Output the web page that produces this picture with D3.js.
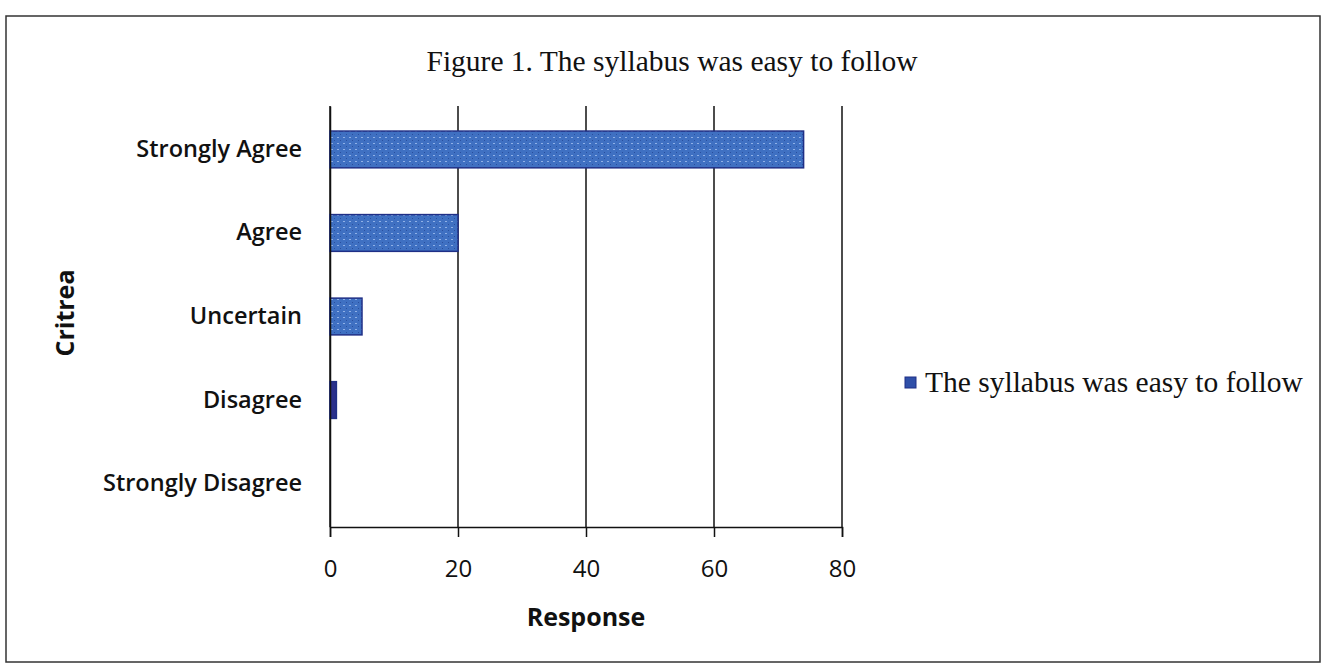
<!DOCTYPE html>
<html>
<head>
<meta charset="utf-8">
<script src="https://cdn.jsdelivr.net/npm/d3@7"></script>
<style>
  body { margin: 0; background: #fff; }
  svg { display: block; }
</style>
</head>
<body>
<svg id="chart" width="1328" height="672"></svg>
<script>
'use strict';

// data
const categories = ["Strongly Agree", "Agree", "Uncertain", "Disagree", "Strongly Disagree"];
const responses = [74, 20, 5, 1, 0];
const xTicks = [0, 20, 40, 60, 80];
const seriesName = "The syllabus was easy to follow";

const svg = d3.select("#chart");
const sans = "'Open Sans', 'Noto Sans', sans-serif";
const serif = "'Liberation Serif', 'DejaVu Serif', serif";

// outer frame
svg.append("rect")
	.attr("x", 6).attr("y", 16)
	.attr("width", 1314).attr("height", 646)
	.attr("fill", "none")
	.attr("stroke", "#333")
	.attr("stroke-width", 1.5);

let margin = {left: 330, right: 486, top: 106, bottom: 145};
let width = 1328 - margin.left - margin.right;
let height = 672 - margin.top - margin.bottom;

let x = d3.scaleLinear().domain([0, 80]).range([0, width]);
let y = d3.scaleBand().domain(categories).range([0, height]).paddingInner(0.56).paddingOuter(0.3);

let g = svg.append("g").attr("transform", "translate(" + margin.left + "," + margin.top + ")");

// vertical gridlines
g.selectAll(".grid")
	.data(xTicks)
	.enter()
	.append("line")
	.attr("class", "grid")
	.attr("x1", d => x(d)).attr("x2", d => x(d))
	.attr("y1", 0).attr("y2", height)
	.attr("stroke", "#111")
	.attr("stroke-width", 1.5);

// bars (speckled fill like the scan)
let pattern = svg.append("defs").append("pattern")
	.attr("id", "tex")
	.attr("width", 6).attr("height", 6)
	.attr("patternUnits", "userSpaceOnUse");
pattern.append("rect").attr("width", 6).attr("height", 6).attr("fill", "#3f70c2");
pattern.append("rect").attr("x", 1).attr("y", 1).attr("width", 2).attr("height", 1).attr("fill", "#8fb0e6");
pattern.append("rect").attr("x", 4).attr("y", 4).attr("width", 1).attr("height", 1).attr("fill", "#2a4f9e");

g.selectAll(".bar")
	.data(responses)
	.enter()
	.append("rect")
	.attr("class", "bar")
	.attr("x", x(0))
	.attr("y", (d, i) => y(categories[i]))
	.attr("width", d => x(d) - x(0))
	.attr("height", y.bandwidth())
	.attr("fill", d => d < 2 ? "#2a2f8a" : "url(#tex)")
	.attr("stroke", d => d > 0 ? "#1f2f86" : "none")
	.attr("stroke-width", 1.5);

// x axis
let xAxis = g.append("g")
	.attr("transform", "translate(0," + height + ")")
	.call(d3.axisBottom(x).tickValues(xTicks).tickSize(10).tickPadding(23));
xAxis.select(".domain").attr("stroke", "#111").attr("stroke-width", 1.5);
xAxis.selectAll(".tick line").attr("stroke", "#111").attr("stroke-width", 1.5);
xAxis.selectAll("text")
	.attr("fill", "#111")
	.style("font-family", sans)
	.style("font-size", "24px");

// y axis (category labels only)
let yAxis = g.append("g")
	.call(d3.axisLeft(y).tickSize(0).tickPadding(28));
yAxis.select(".domain").attr("stroke", "#111").attr("stroke-width", 1.5);
yAxis.selectAll("text")
	.attr("fill", "#111")
	.style("font-family", sans)
	.style("font-size", "23.5px")
	.style("font-weight", "600");

// title
svg.append("text")
	.attr("x", 672).attr("y", 71)
	.attr("text-anchor", "middle")
	.style("font-family", serif)
	.style("font-size", "29.5px")
	.attr("fill", "#111")
	.text("Figure 1. The syllabus was easy to follow");

// axis titles
svg.append("text")
	.attr("x", margin.left + width / 2).attr("y", 626)
	.attr("text-anchor", "middle")
	.style("font-family", sans)
	.style("font-size", "25px")
	.style("font-weight", "bold")
	.attr("fill", "#111")
	.text("Response");

svg.append("text")
	.attr("transform", "translate(74," + 313 + ") rotate(-90)")
	.attr("text-anchor", "middle")
	.style("font-family", sans)
	.style("font-size", "25px")
	.style("font-weight", "bold")
	.attr("fill", "#111")
	.text("Critrea");

// legend
let legend = svg.append("g").attr("transform", "translate(905,377)");
legend.append("rect")
	.attr("width", 11).attr("height", 11)
	.attr("fill", "#2f4fa8")
	.attr("stroke", "#1f2f86");
legend.append("text")
	.attr("x", 20).attr("y", 15)
	.style("font-family", serif)
	.style("font-size", "29.5px")
	.attr("fill", "#111")
	.text(seriesName);
</script>
</body>
</html>
